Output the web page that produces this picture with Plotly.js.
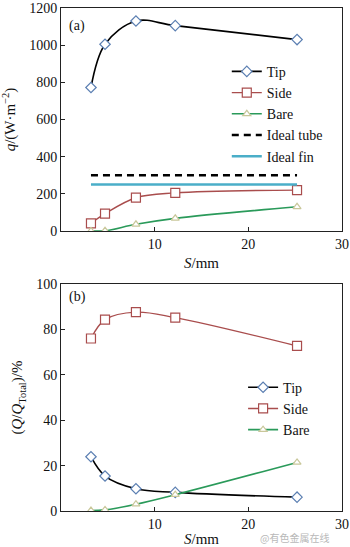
<!DOCTYPE html>
<html>
<head>
<meta charset="utf-8">
<script src="https://cdn.plot.ly/plotly-3.0.1.min.js"></script>
<style>html,body{margin:0;padding:0;background:#fff;}#chart{width:350px;height:547px;}</style>
</head>
<body>
<div id="chart"></div>
<script>
// Spacing S (mm)
const spacing = [3.2, 4.7, 8.0, 12.2, 25.2];
// (a) heat flux q (W·m^-2)
const qTip  = [772, 1005, 1130, 1105, 1030];
const qSide = [41, 93, 179, 205, 220];
const qBare = [0, 1, 36, 68, 130];
const idealX = [3.2, 25.2];
const qIdealTube = [300, 300];
const qIdealFin  = [250, 250];
// (b) share of total heat Q/Q_total (%)
const pTip  = [23.9, 15.4, 9.8, 8.2, 6.1];
const pSide = [76.0, 84.3, 87.6, 85.2, 72.7];
const pBare = [0.2, 0.5, 3.0, 7.2, 21.4];

const serif = 'Liberation Serif';
const cTip = '#000000', cTipMk = '#5b7fb2';
const cSide = '#a94d4d';
const cBare = '#2a9a5a', cBareMk = '#c9c79a';
const cFin = '#4aaec8';

function tip(y, xa, ya, lg) {
  return {x: spacing, y: y, xaxis: xa, yaxis: ya, name: 'Tip', legend: lg,
    mode: 'lines+markers', line: {color: cTip, width: 1.6, shape: 'spline'},
    marker: {symbol: 'diamond', size: 8, color: '#fff', line: {color: cTipMk, width: 1.2}}};
}
function side(y, xa, ya, lg) {
  return {x: spacing, y: y, xaxis: xa, yaxis: ya, name: 'Side', legend: lg,
    mode: 'lines+markers', line: {color: cSide, width: 1.4, shape: 'spline'},
    marker: {symbol: 'square', size: 9, color: '#fff', line: {color: cSide, width: 1.2}}};
}
function bare(y, xa, ya, lg) {
  return {x: spacing, y: y, xaxis: xa, yaxis: ya, name: 'Bare', legend: lg,
    mode: 'lines+markers', line: {color: cBare, width: 1.6, shape: 'spline'},
    marker: {symbol: 'triangle-up', size: 7, color: '#fff', line: {color: cBareMk, width: 1.2}}};
}

const data = [
  tip(qTip, 'x', 'y', 'legend'),
  side(qSide, 'x', 'y', 'legend'),
  bare(qBare, 'x', 'y', 'legend'),
  {x: idealX, y: qIdealTube, xaxis: 'x', yaxis: 'y', name: 'Ideal tube', legend: 'legend',
   mode: 'lines', line: {color: '#000', width: 2.5, dash: '7px,5px'}},
  {x: idealX, y: qIdealFin, xaxis: 'x', yaxis: 'y', name: 'Ideal fin', legend: 'legend',
   mode: 'lines', line: {color: cFin, width: 2.5}},
  tip(pTip, 'x2', 'y2', 'legend2'),
  side(pSide, 'x2', 'y2', 'legend2'),
  bare(pBare, 'x2', 'y2', 'legend2')
];

const axisCommon = {
  showline: true, mirror: true, linecolor: '#222', linewidth: 1,
  ticks: 'inside', ticklen: 4, tickcolor: '#222', showgrid: false, zeroline: false,
  ticklabeloverflow: 'allow',
  tickfont: {family: serif, size: 14, color: '#111'}
};
const titleFont = {family: serif, size: 15, color: '#111'};

const layout = {
  width: 350, height: 547,
  margin: {l: 61, r: 8, t: 8, b: 36},
  paper_bgcolor: '#fff', plot_bgcolor: '#fff',
  font: {family: serif, size: 14, color: '#111'},
  xaxis: Object.assign({}, axisCommon, {domain: [0, 1], range: [0, 30], tickvals: [10, 20, 30], anchor: 'y',
    title: {text: '<i>S</i>/mm', font: titleFont, standoff: 6}}),
  yaxis: Object.assign({}, axisCommon, {domain: [0.5567, 1], range: [0, 1200], dtick: 200, anchor: 'x',
    title: {text: '<i>q</i>/(W·m<sup>−2</sup>)', font: titleFont, standoff: 9}}),
  xaxis2: Object.assign({}, axisCommon, {domain: [0, 1], range: [0, 30], tickvals: [10, 20, 30], anchor: 'y2',
    title: {text: '<i>S</i>/mm', font: titleFont, standoff: 4}}),
  yaxis2: Object.assign({}, axisCommon, {domain: [0, 0.4513], range: [0, 100], dtick: 20, anchor: 'x2',
    title: {text: '(<i>Q</i>/<i>Q</i><sub>Total</sub>)/%', font: titleFont, standoff: 9}}),
  legend: {x: 0.59, y: 0.905, xanchor: 'left', yanchor: 'top', bgcolor: 'rgba(0,0,0,0)',
    font: {family: serif, size: 14, color: '#111'}, itemwidth: 30, tracegroupgap: 0},
  legend2: {x: 0.648, y: 0.277, xanchor: 'left', yanchor: 'top', bgcolor: 'rgba(0,0,0,0)',
    font: {family: serif, size: 14, color: '#111'}, itemwidth: 30, tracegroupgap: 0},
  annotations: [
    {text: '(a)', xref: 'paper', yref: 'paper', x: 0.02, y: 0.985, xanchor: 'left', yanchor: 'top',
     showarrow: false, font: {family: serif, size: 14, color: '#111'}},
    {text: '(b)', xref: 'paper', yref: 'paper', x: 0.02, y: 0.445, xanchor: 'left', yanchor: 'top',
     showarrow: false, font: {family: serif, size: 14, color: '#111'}},
    {text: '@有色金属在线', xref: 'paper', yref: 'paper', x: 0.962, y: -0.0725, xanchor: 'right', yanchor: 'bottom',
     showarrow: false, font: {family: 'Noto Sans CJK SC', size: 10, color: '#b8b8b8'}}
  ]
};

Plotly.newPlot('chart', data, layout, {displayModeBar: false, staticPlot: true});
</script>
</body>
</html>
